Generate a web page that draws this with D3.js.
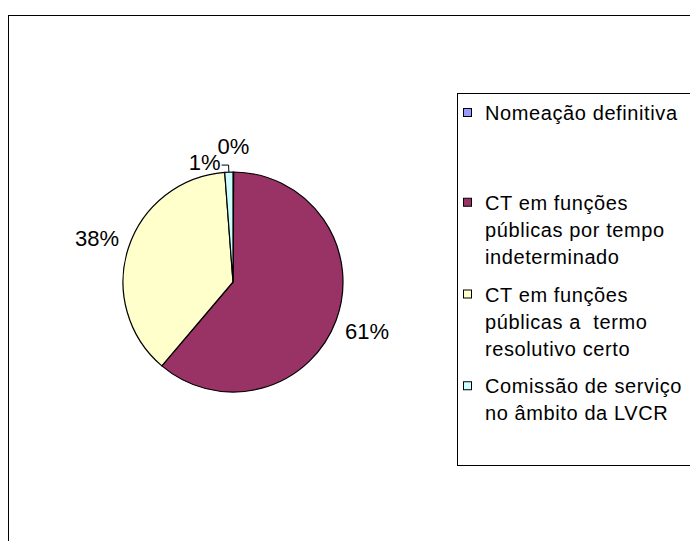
<!DOCTYPE html>
<html lang="pt">
<head>
<meta charset="utf-8">
<title>Vínculos</title>
<script src="https://cdn.jsdelivr.net/npm/d3@7"></script>
<style>
  body { margin: 0; background: #fff; font-family: "Liberation Sans", Arial, sans-serif; }
  svg text { fill: #000; }
  tspan { white-space: pre; }
</style>
</head>
<body>
<div id="vis"></div>
<script>
  // data (percent of workers)
  const categories = [
    "Nomeação definitiva",
    "CT em funções públicas por tempo indeterminado",
    "CT em funções públicas a  termo resolutivo certo",
    "Comissão de serviço no âmbito da LVCR"
  ];
  const legendLines = [
    ["Nomeação definitiva"],
    ["CT em funções", "públicas por tempo", "indeterminado"],
    ["CT em funções", "públicas a  termo", "resolutivo certo"],
    ["Comissão de serviço", "no âmbito da LVCR"]
  ];
  const values = [0.1, 61.1, 37.6, 1.2];
  const colours = ["#9999ff", "#993366", "#ffffcc", "#ccffff"];

  const width = 690, height = 541;
  const centre = { x: 233, y: 282 };
  const radius = 110;

  const svg = d3.select('#vis').append('svg')
    .attr('width', width)
    .attr('height', height);

  // chart area border (runs off the right and bottom of the picture)
  svg.append('rect')
    .attr('x', 8.5).attr('y', 15.5)
    .attr('width', 720).attr('height', 600)
    .attr('fill', 'none').attr('stroke', '#000');

  const pie = d3.pie().sort(null).value(d => d);
  const arcs = pie(values);
  const arc = d3.arc().innerRadius(0).outerRadius(radius);

  const g = svg.append('g').attr('transform', `translate(${centre.x},${centre.y})`);

  g.selectAll('path')
    .data(arcs)
    .enter()
    .append('path')
    .attr('d', arc)
    .attr('fill', (d, i) => colours[i])
    .attr('stroke', '#000')
    .attr('stroke-width', 1.2)
    .attr('stroke-linejoin', 'round');

  const total = d3.sum(values);
  const pct = v => Math.round(v / total * 100) + '%';
  const mid = d => (d.startAngle + d.endAngle) / 2;
  const at = (a, r) => [Math.sin(a) * r, -Math.cos(a) * r];

  // labels: normal ones sit outside the slice, the 1% one is pushed aside with a leader
  arcs.forEach((d, i) => {
    const a = mid(d);
    const share = d.value / total;
    if (share >= 0.02 || share < 0.005) {
      const p = at(a, share < 0.005 ? 136 : 143);
      g.append('text')
        .attr('x', p[0]).attr('y', p[1])
        .attr('text-anchor', 'middle')
        .attr('dy', '0.35em')
        .style('font-size', '22px')
        .text(pct(d.value));
    } else {
      const edge = at(a, radius);
      const elbow = at(a, radius + 7);
      const end = [elbow[0] - 7, elbow[1]];
      g.append('path')
        .attr('d', d3.line()([edge, elbow, end]))
        .attr('fill', 'none')
        .attr('stroke', '#000')
        .attr('stroke-width', 1);
      g.append('text')
        .attr('x', end[0] - 1).attr('y', end[1] - 3)
        .attr('text-anchor', 'end')
        .attr('dy', '0.35em')
        .style('font-size', '22px')
        .text(pct(d.value));
    }
  });

  // legend
  const legend = svg.append('g');
  legend.append('rect')
    .attr('x', 457.5).attr('y', 93.5)
    .attr('width', 300).attr('height', 372)
    .attr('fill', 'none').attr('stroke', '#000');

  const slotY = d3.scaleBand().domain(d3.range(categories.length)).range([113, 480]).align(0);
  const lineH = 27;

  const items = legend.selectAll('.item')
    .data(categories)
    .enter()
    .append('g')
    .attr('class', 'item')
    .attr('transform', (d, i) => `translate(0,${slotY(i) - (i ? 2 : 0)})`);

  items.append('rect')
    .attr('x', 463.5).attr('y', -4.5)
    .attr('width', 8).attr('height', 8)
    .attr('fill', (d, i) => colours[i])
    .attr('stroke', '#000');

  items.each(function (d, i) {
    const t = d3.select(this).append('text')
      .style('font-size', '20px')
      .style('letter-spacing', '0.6px');
    legendLines[i].forEach((line, j) => {
      t.append('tspan')
        .attr('x', 485)
        .attr('y', j * lineH)
        .attr('dy', '0.35em')
        .text(line);
    });
  });
</script>
</body>
</html>
